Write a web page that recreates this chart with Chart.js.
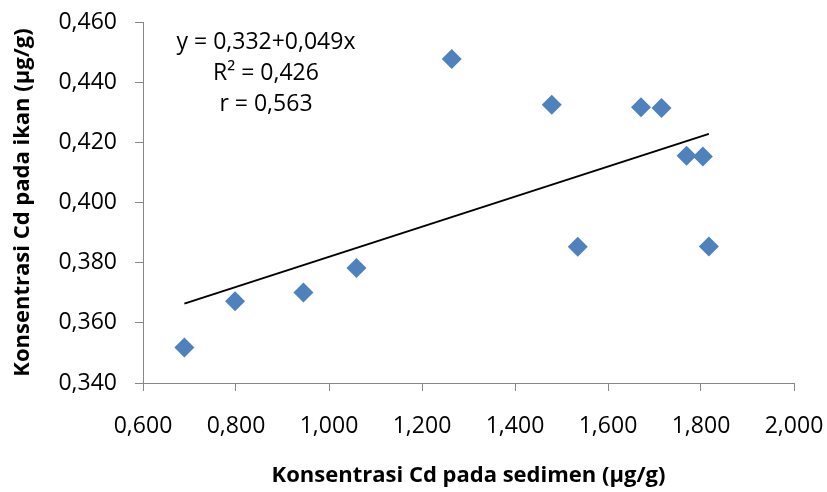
<!DOCTYPE html>
<html><head><meta charset="utf-8">
<script src="https://cdn.jsdelivr.net/npm/chart.js@4"></script>
<style>html,body{margin:0;background:#fff}#wrap{width:827px;height:492px}</style>
</head><body><div id="wrap"><canvas id="c"></canvas></div>
<script>
// Cd concentration: sediment (x) vs fish (y), µg/g
const sedimen = [0.689, 0.798, 0.945, 1.059, 1.264, 1.479, 1.535, 1.671, 1.715, 1.769, 1.804, 1.817];
const ikan    = [0.3518, 0.3672, 0.3701, 0.3782, 0.4477, 0.4325, 0.3853, 0.4317, 0.4314, 0.4155, 0.4153, 0.3854];
const trendX  = [0.689, 1.817];
const trendY  = [0.3664, 0.4228];
const notes   = ['y = 0,332+0,049x', 'R² = 0,426', 'r = 0,563'];

const fmt = v => v.toFixed(3).replace('.', ',');
const axisGrey = '#868686';
Chart.defaults.font.family = "'Open Sans'";
Chart.defaults.color = '#000';

const notePlugin = {
  id: 'notes',
  afterDraw(chart){
    const ctx = chart.ctx, a = chart.chartArea;
    ctx.save();
    ctx.font = "23px 'Open Sans'";
    ctx.fillStyle = '#000';
    ctx.textAlign = 'center';
    ctx.textBaseline = 'middle';
    notes.forEach((t, i) => ctx.fillText(t, a.left + 123, a.top + 20 + i * 31));
    ctx.restore();
  }
};

new Chart(document.getElementById('c'), {
  type: 'scatter',
  data: {
    datasets: [{
      data: sedimen.map((x, i) => ({x: x, y: ikan[i]})),
      pointStyle: 'rectRot',
      pointRadius: 10,
      pointHoverRadius: 10,
      backgroundColor: '#4F81BD',
      borderColor: '#4F81BD',
      borderWidth: 0
    }, {
      data: trendX.map((x, i) => ({x: x, y: trendY[i]})),
      showLine: true,
      borderColor: '#000',
      borderWidth: 2,
      pointRadius: 0
    }]
  },
  options: {
    responsive: true,
    maintainAspectRatio: false,
    animation: false,
    layout: {padding: {top: 22, right: 33, left: 0, bottom: 0}},
    plugins: {legend: {display: false}, tooltip: {enabled: false}},
    scales: {
      x: {
        min: 0.6, max: 2.0,
        afterFit: s => { s.height = 109; s.paddingLeft = 0; s.paddingRight = 0; },
        border: {color: axisGrey, width: 1},
        grid: {drawOnChartArea: false, color: axisGrey, tickLength: 8},
        ticks: {stepSize: 0.2, padding: 22, font: {size: 23}, maxRotation: 0, callback: v => fmt(v)},
        title: {display: true, text: 'Konsentrasi Cd pada sedimen (µg/g)', font: {size: 22, weight: 'bold'}, padding: {top: 0, bottom: 3}}
      },
      y: {
        min: 0.34, max: 0.46,
        afterFit: s => { s.width = 143; s.paddingTop = 0; s.paddingBottom = 0; },
        border: {color: axisGrey, width: 1},
        grid: {drawOnChartArea: false, color: axisGrey, tickLength: 8},
        ticks: {stepSize: 0.02, padding: 18, font: {size: 23}, callback: v => fmt(v)},
        title: {display: true, text: 'Konsentrasi Cd pada ikan (µg/g)', font: {size: 22, weight: 'bold'}, padding: {top: 10, bottom: 0}}
      }
    }
  },
  plugins: [notePlugin]
});
</script>
</body></html>
